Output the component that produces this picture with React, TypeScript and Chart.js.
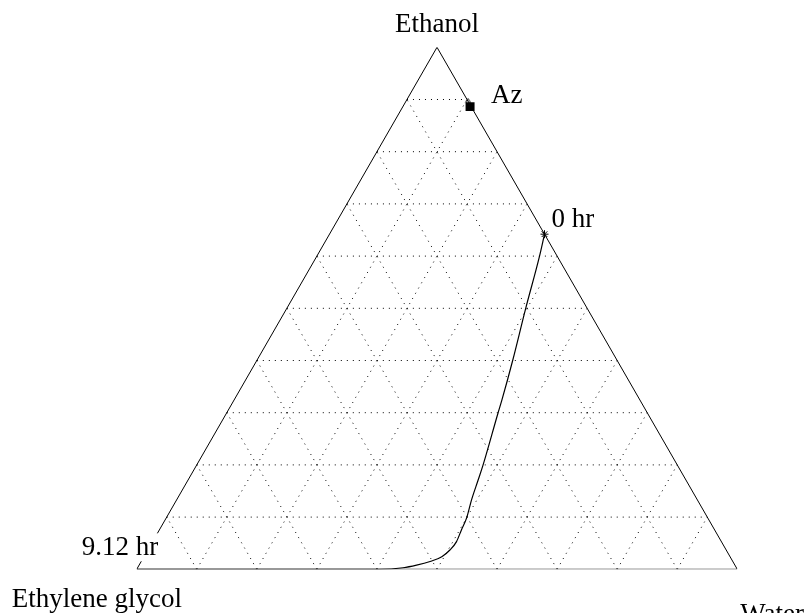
import React, { useEffect, useRef } from "react";
import { Chart, registerables } from "chart.js";

Chart.register(...registerables);

const H = Math.sqrt(3) / 2;

// Ternary grid fractions (10% steps)
const gridFractions = [0.1, 0.2, 0.3, 0.4, 0.5, 0.6, 0.7, 0.8, 0.9];

// Vertex labels: top, bottom-right, bottom-left
const vertexLabels = ["Ethanol", "Water", "Ethylene glycol"];

// Still-pot composition trajectory (mole fractions), from 0 hr to 9.12 hr
const curveEthanol = [0.642, 0.599, 0.499, 0.4, 0.324, 0.299, 0.199, 0.171, 0.133, 0.099, 0.075, 0.053, 0.037, 0.024, 0.015, 0.008, 0.003, 0, 0, 0, 0];
const curveWater = [0.358, 0.371, 0.398, 0.426, 0.446, 0.452, 0.477, 0.483, 0.491, 0.5, 0.503, 0.506, 0.503, 0.496, 0.481, 0.462, 0.442, 0.405, 0.25, 0.1, 0];
const startLabel = "0 hr";
const endLabel = "9.12 hr";

// Ethanol-water azeotrope
const azEthanol = [0.89];
const azWater = [0.11];
const azLabel = "Az";

function toXY(e: number, w: number) {
  return { x: w + 0.5 * e, y: H * e };
}

function makeHouse(): HTMLCanvasElement {
  const c = document.createElement("canvas");
  c.width = 13;
  c.height = 13;
  const g = c.getContext("2d")!;
  g.fillStyle = "#000";
  g.fillRect(2, 4, 9, 9);
  g.strokeStyle = "#000";
  g.lineWidth = 1;
  g.beginPath();
  g.moveTo(2, 4.5);
  g.lineTo(4.5, 0.5);
  g.lineTo(7, 4.5);
  g.stroke();
  return c;
}

export default function App() {
  const ref = useRef<HTMLCanvasElement | null>(null);

  useEffect(() => {
    document.body.style.margin = "0";
    const canvas = ref.current;
    if (!canvas) return;

    const gridStyle = {
      borderColor: "#000",
      borderWidth: 1,
      borderDash: [1, 5],
      pointRadius: 0,
      showLine: true,
      fill: false,
      tension: 0,
    };

    const gridSets: any[] = [];
    gridFractions.forEach((k) => {
      gridSets.push({ ...gridStyle, data: [toXY(k, 0), toXY(k, 1 - k)] });
      gridSets.push({ ...gridStyle, data: [toXY(0, k), toXY(1 - k, k)] });
      gridSets.push({ ...gridStyle, data: [toXY(0, 1 - k), toXY(1 - k, 0)] });
    });

    const outline = {
      data: [toXY(0, 0), toXY(0, 1), toXY(1, 0), toXY(0, 0)],
      borderColor: "#000",
      borderWidth: 1,
      pointRadius: 0,
      showLine: true,
      tension: 0,
    };

    const curve = {
      data: curveEthanol.map((e, i) => toXY(e, curveWater[i])),
      borderColor: "#000",
      borderWidth: 1.2,
      pointRadius: 0,
      showLine: true,
      cubicInterpolationMode: "monotone",
      tension: 0.4,
    };

    const startPoint = {
      data: [toXY(curveEthanol[0], curveWater[0])],
      pointStyle: "star",
      pointRadius: 4,
      borderColor: "#000",
      borderWidth: 1,
      showLine: false,
    };

    const azPoint = {
      data: azEthanol.map((e, i) => toXY(e, azWater[i])),
      pointStyle: makeHouse(),
      pointRadius: 6,
      showLine: false,
    };

    const labelPlugin = {
      id: "ternaryLabels",
      afterDraw(chart: any) {
        const ctx = chart.ctx;
        const xs = chart.scales.x;
        const ys = chart.scales.y;
        const px = (p: { x: number; y: number }) => ({ x: xs.getPixelForValue(p.x), y: ys.getPixelForValue(p.y) });
        ctx.save();
        ctx.font = '27px "Liberation Serif", "Times New Roman", serif';
        ctx.fillStyle = "#000";
        ctx.textBaseline = "alphabetic";

        const top = px(toXY(1, 0));
        const right = px(toXY(0, 1));
        const left = px(toXY(0, 0));

        ctx.textAlign = "center";
        ctx.fillText(vertexLabels[0], top.x, top.y - 15);
        ctx.textAlign = "left";
        ctx.fillText(vertexLabels[1], right.x + 3, right.y + 53);
        ctx.fillText(vertexLabels[2], left.x - 125, left.y + 38);

        const s = px(toXY(curveEthanol[0], curveWater[0]));
        ctx.fillText(startLabel, s.x + 7, s.y - 7);

        const a = px(toXY(azEthanol[0], azWater[0]));
        ctx.fillText(azLabel, a.x + 21, a.y - 2);

        const n = curveEthanol.length - 1;
        const e = px(toXY(curveEthanol[n], curveWater[n]));
        const w = ctx.measureText(endLabel).width;
        ctx.fillStyle = "#fff";
        ctx.fillRect(e.x - 57, e.y - 36, w + 4, 28);
        ctx.fillStyle = "#000";
        ctx.fillText(endLabel, e.x - 55, e.y - 14);
        ctx.restore();
      },
    };

    const chart = new Chart(canvas, {
      type: "scatter",
      data: { datasets: [...gridSets, outline, curve, startPoint, azPoint] },
      options: {
        animation: false,
        responsive: false,
        layout: { padding: { left: 136.7, right: 73.7, top: 47.3, bottom: 43.7 } },
        scales: {
          x: { type: "linear", min: 0, max: 1, display: false },
          y: { type: "linear", min: 0, max: H, display: false },
        },
        plugins: { legend: { display: false }, tooltip: { enabled: false } },
      },
      plugins: [labelPlugin],
    });
    return () => chart.destroy();
  }, []);

  return (
    <div style={{ width: 811, height: 613, background: "#fff" }}>
      <canvas ref={ref} width={811} height={613} style={{ display: "block" }} />
    </div>
  );
}
